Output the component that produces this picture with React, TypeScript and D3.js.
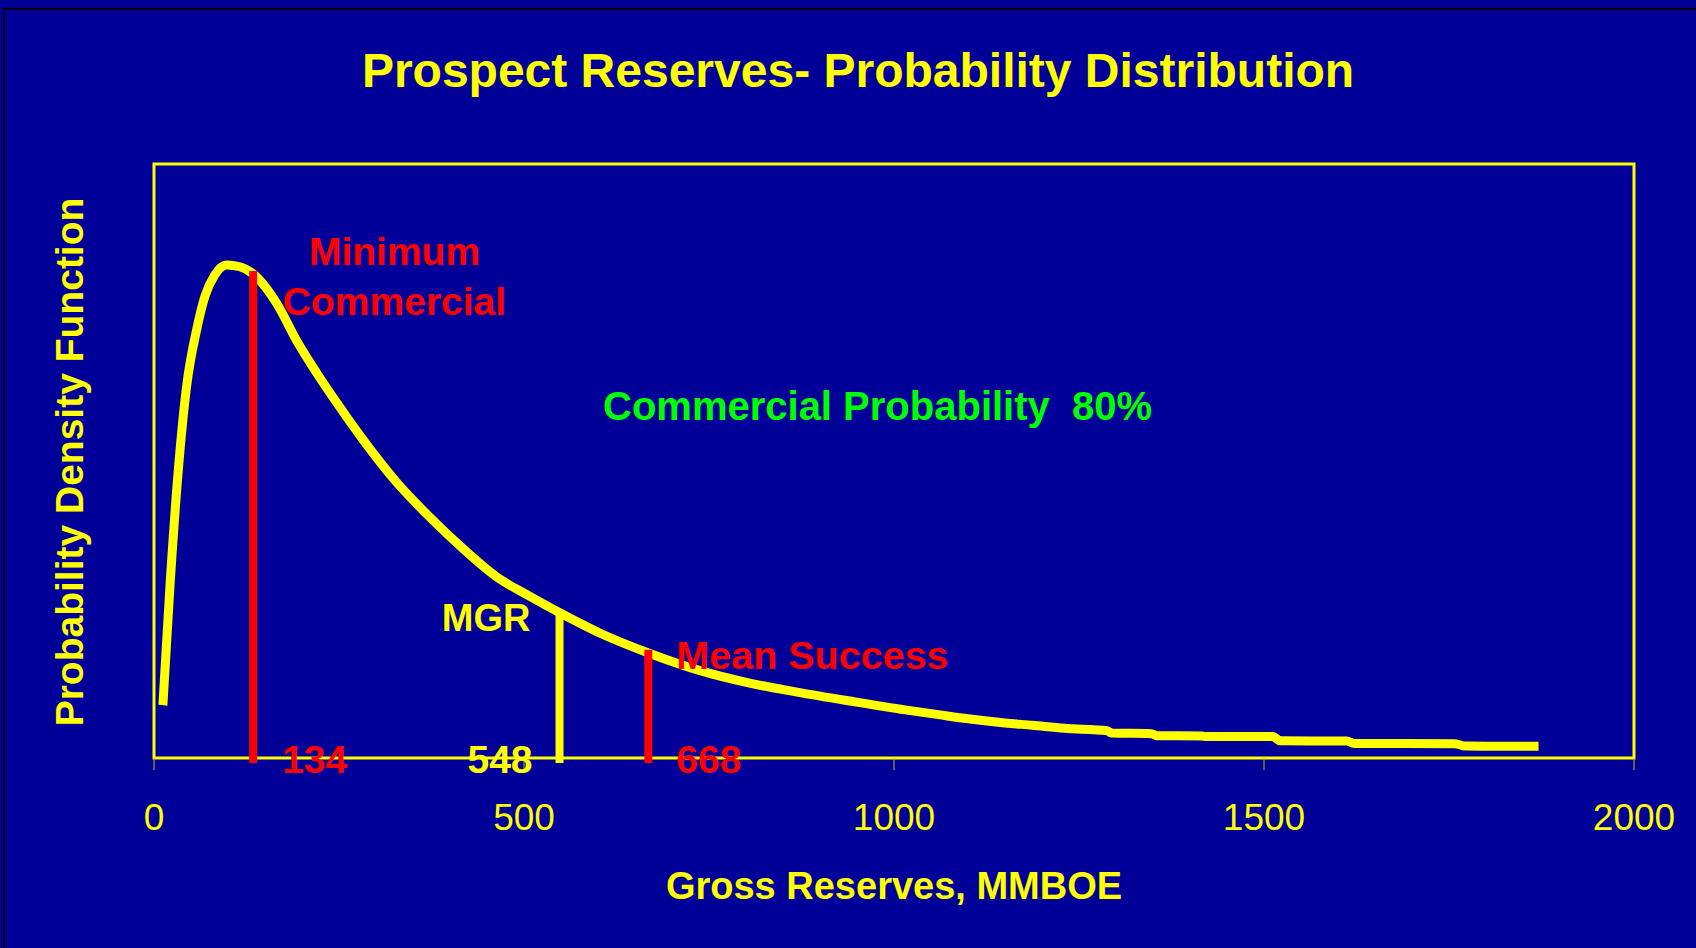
import React from 'react';
import * as d3 from 'd3';

// curve: gross reserves (MMBOE) vs relative density
const reserves = [12, 22, 33, 44, 58, 69, 82, 98, 116, 134, 166, 193, 220, 247, 283, 328, 373, 418, 463, 508, 549, 603, 670, 738, 805, 869, 940, 1015, 1060, 1100, 1150, 1187, 1230, 1288, 1294, 1348, 1355, 1416, 1422, 1512, 1522, 1612, 1622, 1758, 1772, 1871];
const density = [8.9, 29.8, 48.7, 62.5, 72.3, 77.8, 81.3, 83, 82.7, 81.5, 76.5, 70.2, 64.8, 59.8, 53.5, 46.4, 40.5, 35.2, 30.5, 27.2, 24.4, 21, 17.6, 14.7, 12.6, 11.1, 9.6, 8.1, 7.3, 6.6, 5.9, 5.5, 5.0, 4.6, 4.2, 4.1, 3.75, 3.7, 3.6, 3.6, 2.9, 2.85, 2.45, 2.42, 2.0, 1.98];

const xTicks = [0, 500, 1000, 1500, 2000];
const minCommercial = 134;
const mgr = 548;
const meanSuccess = 668;
const commercialProb = '80%';

const W = 1696;
const H = 948;
const BG = '#000099';
const YEL = '#ffff00';
const RED = '#ff0000';
const FONT = '"Liberation Sans", Arial, sans-serif';

const x = d3.scaleLinear([0, 2000], [154, 1634]);
const y = d3.scaleLinear([0, 100], [758, 164]);

const pts: [number, number][] = reserves.map((r, i) => [r, density[i]]);
const line = d3.line<[number, number]>()
  .x(d => x(d[0]))
  .y(d => y(d[1]))
  .curve(d3.curveMonotoneX);

const densityAt = (v: number) => {
  const i = d3.bisector((d: number) => d).left(reserves, v);
  if (i <= 0) return density[0];
  if (i >= reserves.length) return density[density.length - 1];
  const t = (v - reserves[i - 1]) / (reserves[i] - reserves[i - 1]);
  return density[i - 1] + t * (density[i] - density[i - 1]);
};

const Marker = ({ v, color }: { v: number; color: string }) => (
  <line x1={x(v)} x2={x(v)} y1={y(0) + 5} y2={y(densityAt(v)) - 3} stroke={color} strokeWidth={8} />
);

const App = () => {
  const bold = { fontFamily: FONT, fontWeight: 700 } as const;
  return (
    <div style={{ position: 'fixed', left: 0, top: 0 }}>
      <svg width={W} height={H} style={{ display: 'block', background: BG }}>
        <rect x={0} y={0} width={W} height={H} fill={BG} />
        {/* black slide edge */}
        <rect x={4} y={9} width={W + 20} height={H + 20} fill="none" stroke="#000" strokeWidth={2} />

        <text x={858} y={87} textAnchor="middle" fill={YEL} fontSize={48} {...bold}>
          Prospect Reserves- Probability Distribution
        </text>

        {/* plot frame */}
        <rect x={x(0)} y={y(100)} width={x(2000) - x(0)} height={y(0) - y(100)} fill="none" stroke={YEL} strokeWidth={3} />

        {xTicks.map(t => (
          <g key={t}>
            <line x1={x(t)} x2={x(t)} y1={y(0)} y2={y(0) + 12} stroke="#b8b820" strokeWidth={1} />
            <text x={x(t)} y={830} textAnchor="middle" fill={YEL} fontSize={37} fontFamily={FONT}>
              {t}
            </text>
          </g>
        ))}

        <path d={line(pts) ?? ''} fill="none" stroke={YEL} strokeWidth={9} strokeLinejoin="round" />

        <Marker v={minCommercial} color={RED} />
        <Marker v={mgr} color={YEL} />
        <Marker v={meanSuccess} color={RED} />

        <text x={x(325)} y={265} textAnchor="middle" fill={RED} fontSize={39} {...bold}>Minimum</text>
        <text x={x(325)} y={315} textAnchor="middle" fill={RED} fontSize={39} {...bold}>Commercial</text>
        <text x={x(minCommercial) + 29} y={773} fill={RED} fontSize={39} {...bold}>{minCommercial}</text>

        <text x={x(mgr) - 29} y={631} textAnchor="end" fill={YEL} fontSize={38} {...bold}>MGR</text>
        <text x={x(mgr) - 27} y={773} textAnchor="end" fill={YEL} fontSize={39} {...bold}>{mgr}</text>

        <text x={x(meanSuccess) + 28} y={669} fill={RED} fontSize={39.5} {...bold}>Mean Success</text>
        <text x={x(meanSuccess) + 28} y={773} fill={RED} fontSize={39} {...bold}>{meanSuccess}</text>

        <text x={603} y={420} fill="#00ff00" fontSize={40} style={{ whiteSpace: 'pre' }} {...bold}>
          {`Commercial Probability  ${commercialProb}`}
        </text>

        <text transform="translate(83,462) rotate(-90)" textAnchor="middle" fill={YEL} fontSize={39} {...bold}>
          Probability Density Function
        </text>
        <text x={894} y={899} textAnchor="middle" fill={YEL} fontSize={38} {...bold}>
          Gross Reserves, MMBOE
        </text>
      </svg>
    </div>
  );
};

export default App;
